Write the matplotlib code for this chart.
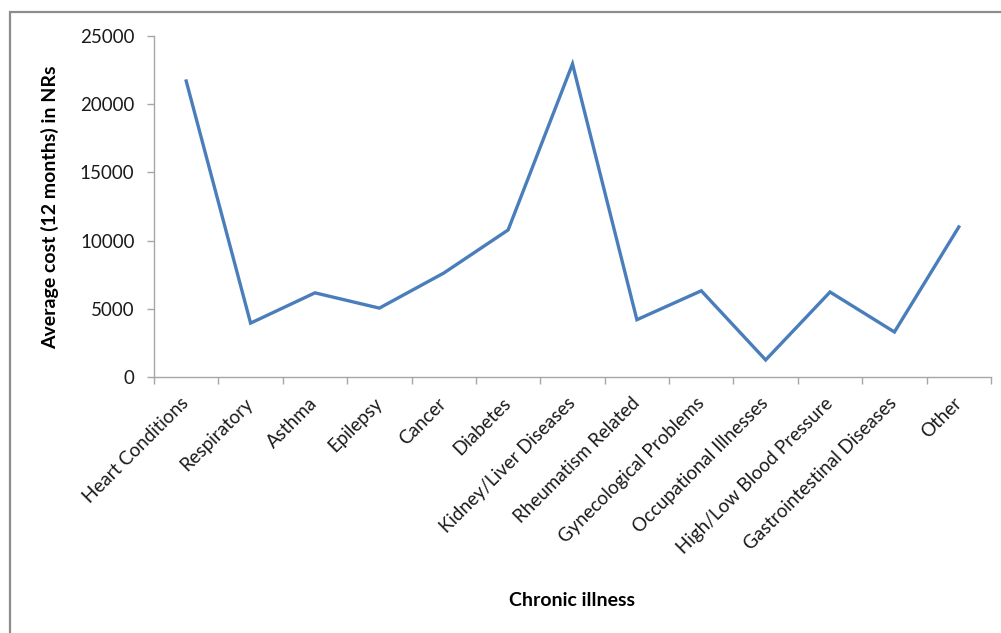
import matplotlib
matplotlib.use("Agg")
import matplotlib.pyplot as plt
from matplotlib.patches import Rectangle

plt.rcParams["font.family"] = ["Lato", "DejaVu Sans"]

illnesses = [
    "Heart Conditions", "Respiratory", "Asthma", "Epilepsy", "Cancer",
    "Diabetes", "Kidney/Liver Diseases", "Rheumatism Related",
    "Gynecological Problems", "Occupational Illnesses",
    "High/Low Blood Pressure", "Gastrointestinal Diseases", "Other",
]
avg_cost = [21700, 3950, 6170, 5050, 7620, 10780, 22950,
            4200, 6320, 1250, 6230, 3300, 11000]
y_ticks = [0, 5000, 10000, 15000, 20000, 25000]

W, H = 1001, 633
fig = plt.figure(figsize=(W / 100, H / 100), dpi=100)
ax = fig.add_axes([154 / W, 1 - 377 / H, (991 - 154) / W, (377 - 36) / H])

x = list(range(len(illnesses)))
ax.plot(x, avg_cost, color="#4A7EBB", lw=2.4, solid_joinstyle="miter")

ax.set_xlim(-0.5, len(illnesses) - 0.5)
ax.set_ylim(0, 25000)
ax.set_yticks(y_ticks)
ax.set_yticklabels([str(v) for v in y_ticks], fontsize=13.5, color="#1a1a1a")

# category labels sit at the centres, tick marks fall between them
ax.set_xticks(x)
ax.set_xticklabels(illnesses, rotation=45, ha="right", va="center",
                   rotation_mode="anchor", fontsize=13.5, color="#1a1a1a")
ax.tick_params(axis="x", which="major", length=0, pad=17)
ax.set_xticks([i - 0.5 for i in range(len(illnesses) + 1)], minor=True)
ax.tick_params(axis="x", which="minor", length=5, width=1, color="#A6A6A6")
ax.tick_params(axis="y", length=5, width=1, color="#A6A6A6", pad=9)

for side in ("top", "right"):
    ax.spines[side].set_visible(False)
for side in ("left", "bottom"):
    ax.spines[side].set_color("#A6A6A6")
    ax.spines[side].set_linewidth(1)

fig.text(50 / W, 1 - 207 / H, "Average cost (12 months) in NRs", rotation=90,
         ha="center", va="center", fontsize=14, fontweight="bold")
fig.text(572 / W, 1 - 601 / H, "Chronic illness",
         ha="center", va="center", fontsize=14, fontweight="bold")

# chart frame, running off the right and bottom edges
fig.patches.append(Rectangle((10 / W, -0.1), 1.1, 1.1 - 12 / H,
                             transform=fig.transFigure, fill=False,
                             edgecolor="#8C8C8C", lw=1.6))

fig.savefig("out.png", dpi=100)
